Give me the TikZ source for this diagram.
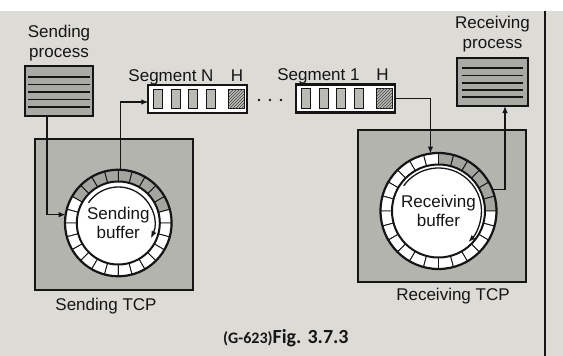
\documentclass[tikz,border=0pt]{standalone}
\usepackage{fontspec}
\setmainfont{Liberation Sans}
\newfontfamily\capfont{Carlito}
\usetikzlibrary{arrows.meta,calc,patterns}
\definecolor{pagecol}{HTML}{DCDBD6}
\definecolor{tcpcol}{HTML}{B4B4AF}
\definecolor{proccol}{HTML}{AAAAA5}
\definecolor{cellgrey}{HTML}{A5A5A0}
\definecolor{segcellcol}{HTML}{BBBBB6}
\definecolor{inkcol}{HTML}{151515}
\newcommand\drawringcells[5]{%
  \foreach \i in {0,...,23}{%
    \pgfmathsetmacro\ra{\i*15}%
    \pgfmathsetmacro\rb{\ra+15}%
    \pgfmathtruncatemacro\isg{((\ra>#4-0.1)&&(\rb<#5+0.1))?1:0}%
    \ifnum\isg=1 \def\cf{cellgrey}\else\def\cf{white}\fi
    \filldraw[fill=\cf, draw=inkcol, line width=0.9pt]
      ($(#1)+(-\ra:#2)$) arc[start angle=-\ra, end angle=-\rb, radius=#2]
      -- ($(#1)+(-\rb:#3)$) arc[start angle=-\rb, end angle=-\ra, radius=#3] -- cycle;
  }%
}
\begin{document}
\begin{tikzpicture}[x=1pt,y=-1pt,
  lbl/.style={inner sep=0pt, text=inkcol, font=\fontsize{17}{19.5}\selectfont, align=center},
  procbox/.style={draw=inkcol, line width=2.2pt, fill=proccol, inner sep=0pt, outer sep=0pt},
  procline/.style={draw=inkcol, line width=1.5pt},
  tcpbox/.style={draw=inkcol, line width=2.2pt, fill=tcpcol, inner sep=0pt, outer sep=0pt},
  segbox/.style={draw=inkcol, line width=2.4pt, fill=white, inner sep=0pt, outer sep=0pt},
  segcell/.style={draw=inkcol, line width=1pt, fill=segcellcol},
  hcell/.style={draw=inkcol, line width=1pt, fill=segcellcol, postaction={pattern=north east lines, pattern color=inkcol!80}},
  ringout/.style={circle, draw=inkcol, line width=2.2pt, inner sep=0pt, outer sep=0pt},
  ringin/.style={circle, draw=inkcol, line width=2pt, fill=white, inner sep=0pt, outer sep=0pt,
    text=inkcol, font=\fontsize{17}{19.5}\selectfont, align=center},
  conn/.style={draw=inkcol, line width=1.2pt, -{Latex[length=7pt,width=5.5pt]}},
  innerarr/.style={draw=inkcol, line width=1.3pt, -{Latex[length=7pt,width=5.5pt]}},
  dotn/.style={circle, fill=inkcol, inner sep=0pt, minimum size=2.6pt}
]
\useasboundingbox (0,0) rectangle (563,356);
\fill[pagecol] (0,0) rectangle (563,356);
\fill[white] (0,0) rectangle (563,11);
\draw[inkcol, line width=1.2pt] (545,11) -- (545,356);

% sending process
\node[procbox, minimum width=68pt, minimum height=50pt] (sp) at (59,91) {};
\foreach \o in {11,18.5,26,33.5,41}
  \draw[procline] ([shift={(3,\o)}]sp.north west) -- ++(62,0);
\node[lbl, anchor=south] (splbl) at ([yshift=5pt]sp.north) {Sending\\process};

% receiving process
\node[procbox, minimum width=71pt, minimum height=48pt] (rp) at (492.5,82) {};
\foreach \o in {10,17.5,25,32,39}
  \draw[procline] ([shift={(5,\o)}]rp.north west) -- ++(61,0);
\node[lbl, anchor=south] (rplbl) at ([yshift=6pt]rp.north) {Receiving\\process};

% TCP boxes
\node[tcpbox, minimum width=158pt, minimum height=151pt] (stcp) at (114,214.5) {};
\node[tcpbox, minimum width=168pt, minimum height=152pt] (rtcp) at (442,206) {};
\node[lbl, anchor=base] (stcplbl) at ([xshift=-8pt,yshift=-20pt]stcp.south) {Sending TCP};
\node[lbl, anchor=base] (rtcplbl) at ([xshift=11pt,yshift=-18pt]rtcp.south) {Receiving TCP};

% segments
\node[segbox, minimum width=98.5pt, minimum height=28pt] (segN) at (197.5,99) {};
\node[segbox, minimum width=98.5pt, minimum height=28pt] (seg1) at (345.5,98.5) {};
\foreach \s in {segN,seg1}{
  \foreach \o in {5.5,23,40.5,58}
    \draw[segcell] ([shift={(\o,4.3)}]\s.north west) rectangle ++(9,19.5);
  \draw[hcell] ([shift={(80.5,4.3)}]\s.north west) rectangle ++(15.5,19.5);
}
\node[lbl, anchor=base] (segNlbl) at ([xshift=-26.5pt,yshift=4pt]segN.north) {Segment N};
\node[lbl, anchor=base] (segNh) at ([xshift=39.5pt,yshift=4pt]segN.north) {H};
\node[lbl, anchor=base] (seg1lbl) at ([xshift=-27pt,yshift=4pt]seg1.north) {Segment 1};
\node[lbl, anchor=base] (seg1h) at ([xshift=37pt,yshift=4pt]seg1.north) {H};
\node[dotn] (d1) at (259,100) {};
\node[dotn] (d2) at (270,100) {};
\node[dotn] (d3) at (281,100) {};

% sending buffer ring
\coordinate (sc) at (118.3,223);
\drawringcells{sc}{41.5}{53.3}{15}{150}
\node[ringout, minimum size=106.6pt] (souter) at (sc) {};
\node[ringin, minimum size=83pt] (sbuf) at (sc) {Sending\\buffer};
\draw[innerarr] ($(sc)+(-146:36)$) arc[start angle=-146, end angle=25, radius=36];

% receiving buffer ring
\coordinate (rc) at (438.5,211);
\drawringcells{rc}{46.5}{58}{0}{90}
\node[ringout, minimum size=116pt] (router) at (rc) {};
\node[ringin, minimum size=93pt] (rbuf) at (rc) {Receiving\\buffer};
\draw[innerarr] ($(rc)+(-144:43)$) arc[start angle=-144, end angle=46, radius=43];

% connectors
\draw[conn] ([xshift=-12pt]sp.south) |- (souter.171);
\draw[conn] (souter.88) |- ([yshift=-3pt]segN.west);
\draw[conn] (seg1.east) -| (router.98);
\draw[conn] (router.22) -| ([xshift=12.5pt]rp.south);

% caption
\node[anchor=base west, inner sep=0pt, text=inkcol] (cap) at (223,343)
  {\capfont\bfseries\fontsize{16}{16}\selectfont (G-623)\fontsize{20}{20}\selectfont Fig. 3.7.3};
\end{tikzpicture}
\end{document}
